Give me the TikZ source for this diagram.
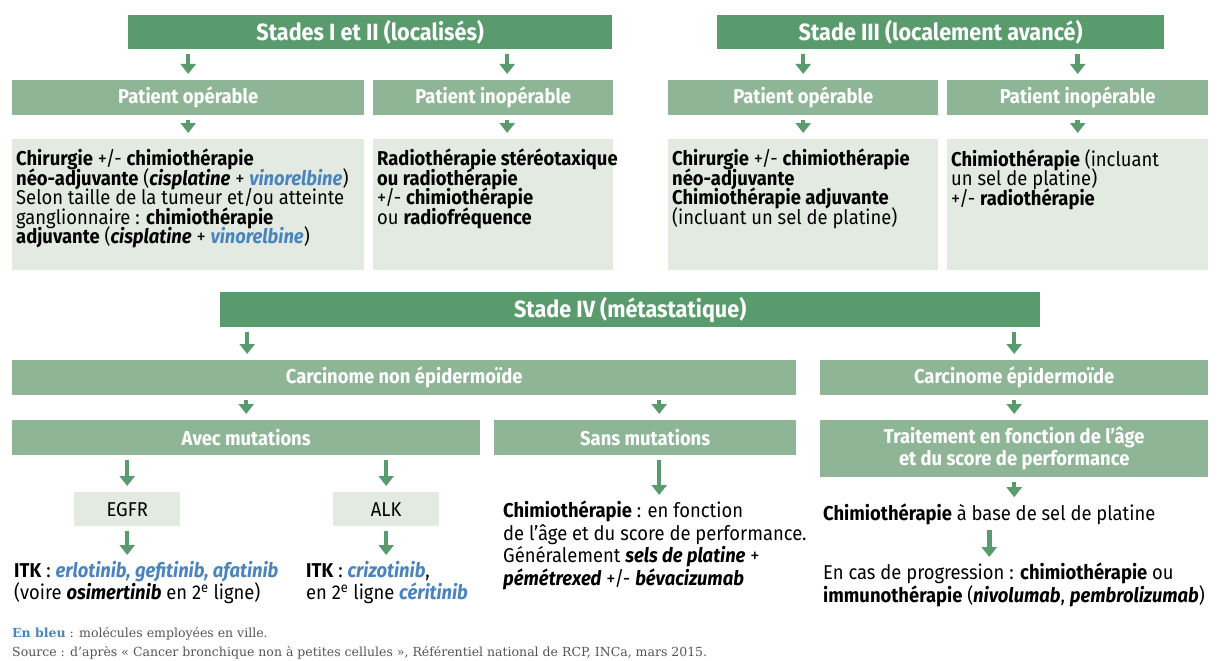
\documentclass[tikz,border=0pt]{standalone}
\usepackage{fontspec}
\setmainfont{Fira Sans}[FakeStretch=0.92]
\newfontfamily\notefont{DejaVu Serif}
\usepackage{xcolor}
\usepackage{tikz}
\usetikzlibrary{positioning,calc,arrows.meta}
\definecolor{StageGreen}{RGB}{90,155,110}
\definecolor{SubGreen}{RGB}{142,182,150}
\definecolor{PanelGray}{RGB}{227,234,226}
\definecolor{DrugBlue}{RGB}{74,132,190}
\definecolor{NoteGray}{RGB}{85,85,85}
\newcommand{\bodyfont}{\fontsize{20}{22.5}\selectfont}
\newcommand{\drug}[1]{\textbf{\textit{#1}}}
\newcommand{\bdrug}[1]{\textcolor{DrugBlue}{\textbf{\textit{#1}}}}
\newcommand{\panelbody}[2]{\parbox[t][111pt][t]{#1}{\fontsize{20}{19.5}\selectfont\lineskiplimit=-10pt\raggedright #2}}

\begin{document}
\begin{tikzpicture}[
        x=1pt, y=-1pt,
        % Style des grandes boites (stades)
        stagebox/.style={
            rectangle,
            fill=StageGreen,
            text=white,
            anchor=north west,
            inner sep=0pt,
            minimum height=34pt,
            font=\fontsize{23.5}{26}\selectfont\bfseries
        },
        % Style des sous-titres
        subbox/.style={
            rectangle,
            fill=SubGreen,
            text=white,
            anchor=north west,
            inner sep=0pt,
            minimum height=35pt,
            align=center,
            font=\fontsize{20}{22}\selectfont\bfseries
        },
        % Style des panneaux de traitement
        panel/.style={
            rectangle,
            fill=PanelGray,
            anchor=north west,
            inner xsep=4pt,
            inner ysep=10pt
        },
        % Style EGFR / ALK
        genebox/.style={
            rectangle,
            fill=PanelGray,
            anchor=north west,
            inner sep=0pt,
            minimum width=106pt,
            minimum height=34pt,
            font=\fontsize{20}{22}\selectfont
        },
        % Texte libre
        plain/.style={
            anchor=north west,
            inner sep=0pt,
            align=left,
            font=\bodyfont
        },
        % Fleches vertes
        arr/.style={
            draw=StageGreen,
            line width=4.5pt,
            -{Triangle[width=15pt,length=10pt]},
            shorten <=5pt,
            shorten >=6pt
        }
    ]

        \fill[white] (0,0) rectangle (1218,661);
        \useasboundingbox (0,0) rectangle (1218,661);

        % --- STADES I ET II / STADE III ---
        \node[stagebox, minimum width=484pt] (st12) at (128,15) {Stades I et II (localisés)};
        \node[stagebox, minimum width=447pt] (st3) at (717,15) {Stade III (localement avancé)};

        \node[subbox, minimum width=352pt] (po1) at (12,80) {Patient opérable};
        \node[subbox, minimum width=240pt] (pi1) at (373,80) {Patient inopérable};
        \node[subbox, minimum width=270pt] (po3) at (668,80) {Patient opérable};
        \node[subbox, minimum width=261pt] (pi3) at (947,80) {Patient inopérable};

        \node[panel] (p1) at (12,139) {\panelbody{344pt}{%
            \textbf{Chirurgie} +/- \textbf{chimiothérapie}\\
            \textbf{néo-adjuvante} (\drug{cisplatine} + \bdrug{vinorelbine})\\
            Selon taille de la tumeur et/ou atteinte\\
            ganglionnaire : \textbf{chimiothérapie}\\
            \textbf{adjuvante} (\drug{cisplatine} + \bdrug{vinorelbine})}};
        \node[panel] (p2) at (373,139) {\panelbody{232pt}{%
            \mbox{\textbf{Radiothérapie stéréotaxique}}\\
            \textbf{ou radiothérapie}\\
            +/- \textbf{chimiothérapie}\\
            ou \textbf{radiofréquence}}};
        \node[panel] (p3) at (668,139) {\panelbody{262pt}{%
            \textbf{Chirurgie} +/- \textbf{chimiothérapie}\\
            \textbf{néo-adjuvante}\\
            \textbf{Chimiothérapie adjuvante}\\
            (incluant un sel de platine)}};
        \node[panel] (p4) at (947,139) {\panelbody{253pt}{%
            \textbf{Chimiothérapie} (incluant\\
            un sel de platine)\\
            +/- \textbf{radiothérapie}}};

        % --- STADE IV ---
        \node[stagebox, minimum width=820pt, minimum height=35pt] (s4) at (220,292) {Stade IV (métastatique)};

        \node[subbox, minimum width=784pt] (cnon) at (12,360) {Carcinome non épidermoïde};
        \node[subbox, minimum width=388pt] (cepi) at (820,360) {Carcinome épidermoïde};

        \node[subbox, minimum width=468pt] (avec) at (12,420) {Avec mutations};
        \node[subbox, minimum width=302pt] (sans) at (494,420) {Sans mutations};
        \node[subbox, minimum width=388pt, minimum height=57pt] (trait) at (820,420)
            {Traitement en fonction de l'âge\\ et du score de performance};

        \node[genebox] (egfr) at (74,492) {EGFR};
        \node[genebox] (alk) at (333,492) {ALK};

        \node[plain] (itk1) at (14,561) {\textbf{ITK} : \bdrug{erlotinib, gefitinib, afatinib}\\
            (voire \drug{osimertinib} en 2\textsuperscript{e} ligne)};
        \node[plain] (itk2) at (306,561) {\textbf{ITK} : \bdrug{crizotinib},\\
            en 2\textsuperscript{e} ligne \bdrug{céritinib}};
        \node[plain] (chimio) at (503,501) {\textbf{Chimiothérapie} : en fonction\\
            de l'âge et du score de performance.\\
            Généralement \drug{sels de platine} +\\
            \drug{pémétrexed} +/- \drug{bévacizumab}};
        \node[plain, anchor=west] (base) at (823,514) {\textbf{Chimiothérapie} à base de sel de platine};
        \node[plain] (prog) at (823,563) {En cas de progression : \textbf{chimiothérapie} ou\\
            \textbf{immunothérapie} (\drug{nivolumab}, \drug{pembrolizumab})};

        % --- NOTES ---
        \node[anchor=west, inner sep=0pt, font=\notefont\fontsize{12.5}{15}\selectfont, text=NoteGray] (note1) at (12,634)
            {\textcolor{DrugBlue}{\textbf{En bleu}} : molécules employées en ville.};
        \node[anchor=west, inner sep=0pt, font=\notefont\fontsize{12.5}{15}\selectfont, text=NoteGray] (note2) at (12,653)
            {Source : d’après « Cancer bronchique non à petites cellules », Référentiel national de RCP, INCa, mars 2015.};

        % --- FLECHES ---
        \foreach \a/\b/\dx in {st12/po1/0, st12/pi1/14, st3/po3/0, st3/pi3/0,
                               po1/p1/0, pi1/p2/14, po3/p3/0, pi3/p4/0,
                               s4/cnon/-157, s4/cepi/0, cnon/avec/0, cnon/sans/14,
                               cepi/trait/0, avec/egfr/0, avec/alk/0} {
            \draw[arr] ([xshift=\dx pt]\b.north |- \a.south) -- ([xshift=\dx pt]\b.north);
        }
        \foreach \a/\b/\dx in {egfr/itk1/0, alk/itk2/0, sans/chimio/14,
                               trait/base/0, base/prog/0} {
            \draw[arr] ([xshift=\dx pt]\a.south) -- ([xshift=\dx pt]\a.south |- \b.north);
        }

    \end{tikzpicture}
\end{document}
